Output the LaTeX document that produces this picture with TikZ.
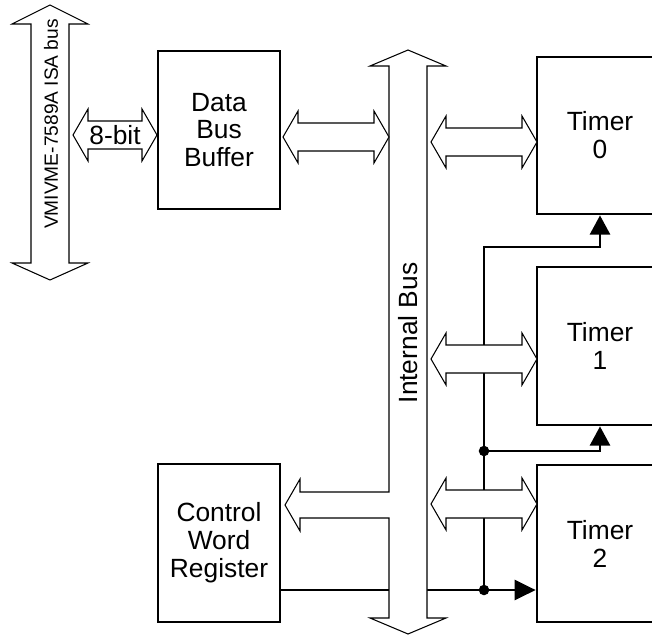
\documentclass[tikz,border=0pt]{standalone}
\usepackage{fontspec}
\setmainfont{Liberation Sans}
\usetikzlibrary{arrows.meta}

\begin{document}
\begin{tikzpicture}[x=0.02cm,y=-0.02cm,
    box/.style={draw,line width=1.6pt,align=center,font=\fontsize{15}{15.9}\selectfont},
    wire/.style={line width=1.4pt},
    bus/.style={draw,fill=white,line width=0.6pt},
    dot/.style={circle,fill=black,inner sep=0pt,minimum size=6pt}]
  \useasboundingbox (0,0) rectangle (652,635);
  \clip (0,0) rectangle (652,635);
  \def\fatarrow#1#2#3{% left tip, right tip, centre y
    \filldraw[bus] (#1,#3) -- ({#1+15},{#3-26}) -- ({#1+15},{#3-14}) -- ({#2-15},{#3-14})
      -- ({#2-15},{#3-26}) -- (#2,#3) -- ({#2-15},{#3+26}) -- ({#2-15},{#3+14})
      -- ({#1+15},{#3+14}) -- ({#1+15},{#3+26}) -- cycle;}
  % blocks
  \node[box,minimum width=2.44cm,minimum height=3.16cm] (dbb) at (219,130) {Data\\Bus\\Buffer};
  \node[box,minimum width=2.44cm,minimum height=3.16cm] (cwr) at (219,543) {Control\\Word\\Register};
  \node[box,minimum width=2.52cm,minimum height=3.14cm] (t0) at (600,135.5) {Timer\\0};
  \node[box,minimum width=2.52cm,minimum height=3.16cm] (t1) at (600,346) {Timer\\1};
  \node[box,minimum width=2.52cm,minimum height=3.14cm] (t2) at (600,543.5) {Timer\\2};
  % control lines
  \coordinate (j1) at (484,451);
  \coordinate (j2) at (484,590);
  \coordinate (bend) at (484,247);
  \coordinate (cw) at (cwr.east |- j2);
  \draw[wire,-{Triangle[length=12pt,width=11.5pt]}] (cw) -- (t2.west |- cw);
  \draw[wire,-{Triangle[length=11pt,width=11.5pt]}] (j2) -- (bend) -| (t0.south);
  \draw[wire,-{Triangle[length=11pt,width=11.5pt]}] (j1) -| (t1.south);
  \node[dot] (d1) at (j1) {};
  \node[dot] (d2) at (j2) {};
  % ISA bus
  \filldraw[bus] (50,5) -- (88,24) -- (69,24) -- (69,263) -- (88,263) -- (50,280)
    -- (12,263) -- (31,263) -- (31,24) -- (12,24) -- cycle;
  % internal bus, with the arrow into the control word register
  \filldraw[bus] (408,50) -- (446,66) -- (427,66) -- (427,618) -- (446,618) -- (408,634)
    -- (370,618) -- (389,618) -- (389,518) -- (300,518) -- (300,531) -- (285,505)
    -- (300,479) -- (300,492) -- (389,492) -- (389,66) -- (370,66) -- cycle;
  \fatarrow{73}{157}{135}
  \fatarrow{283}{389}{137}
  \fatarrow{431}{537}{142}
  \fatarrow{431}{537}{359}
  \fatarrow{431}{537}{504}
  % labels
  \node[rotate=90,font=\fontsize{10.9}{13}\selectfont] (isa) at (51,124) {VMIVME-7589A ISA bus};
  \node[rotate=90,font=\fontsize{15}{16}\selectfont] (ib) at (408,333) {Internal Bus};
  \node[font=\fontsize{15}{16}\selectfont] (eight) at (115,135) {8-bit};
\end{tikzpicture}
\end{document}
